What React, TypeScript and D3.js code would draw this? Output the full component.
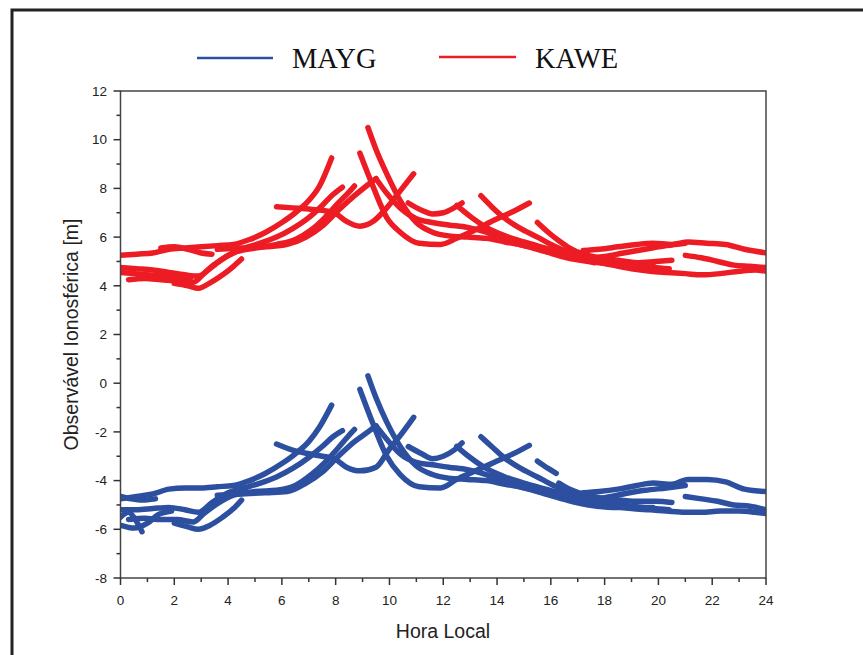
import * as d3 from 'd3';

// KAWE passes (hora local, observável [m])
const kawe1 = [[0, 5.25], [0.6, 5.3], [1.2, 5.35], [1.8, 5.5], [2.4, 5.55], [3, 5.6], [3.6, 5.65], [4.2, 5.7], [4.8, 5.9], [5.4, 6.2], [6, 6.6], [6.5, 7.0], [7, 7.5], [7.4, 8.1], [7.85, 9.25]];
const kawe2 = [[0, 4.75], [0.6, 4.7], [1.2, 4.65], [1.8, 4.55], [2.4, 4.45], [2.9, 4.4], [3.4, 4.8], [4, 5.25], [4.6, 5.55], [5.2, 5.75], [5.8, 6.0], [6.4, 6.35], [7, 6.8], [7.5, 7.3], [7.9, 7.75], [8.25, 8.05]];
const kawe3 = [[0.3, 4.25], [0.9, 4.3], [1.5, 4.25], [2.1, 4.2], [2.7, 4.15], [3.1, 4.5], [3.6, 4.95], [4.2, 5.35], [5, 5.55], [5.8, 5.7], [6.5, 5.9], [7.1, 6.3], [7.6, 6.8], [8.1, 7.4], [8.45, 7.8], [8.7, 8.1]];
const kawe4 = [[2.0, 4.1], [2.5, 4.0], [2.9, 3.9], [3.3, 4.1], [3.8, 4.45], [4.2, 4.8], [4.5, 5.1]];
const kawe5 = [[0, 4.55], [0.5, 4.5], [1, 4.45], [1.6, 4.4], [2.2, 4.35], [2.6, 4.3]];
const kawe5b = [[1.5, 5.55], [2.0, 5.6], [2.5, 5.5], [3.0, 5.35], [3.4, 5.3]];
const kawe6 = [[5.8, 7.25], [6.4, 7.2], [7, 7.15], [7.5, 7.1], [7.95, 7.0], [8.4, 6.65], [8.9, 6.45], [9.4, 6.65], [9.9, 7.2], [10.4, 7.9], [10.9, 8.6]];
const kawe7 = [[3.6, 5.5], [4.5, 5.55], [5.4, 5.6], [6.2, 5.7], [6.9, 6.0], [7.5, 6.45], [8.1, 7.1], [8.7, 7.7], [9.2, 8.15], [9.5, 8.4]];
const kawe8 = [[9.2, 10.5], [9.5, 9.6], [9.9, 8.6], [10.4, 7.5], [11, 6.6], [11.6, 6.2], [12.2, 6.05], [12.9, 6.0], [13.6, 5.95], [14.3, 5.8], [15, 5.65], [15.8, 5.4], [16.6, 5.15], [17.4, 5.0], [18.3, 4.9], [19.2, 4.85], [19.8, 4.85]];
const kawe9 = [[8.9, 9.45], [9.4, 8.05], [9.9, 6.8], [10.4, 6.2], [11.1, 5.75], [11.9, 5.7], [12.5, 5.95], [13.2, 6.3], [13.9, 6.7], [14.6, 7.05], [15.2, 7.4]];
const kawe10 = [[9.5, 8.4], [9.9, 7.8], [10.4, 7.2], [11, 6.75], [11.6, 6.6], [12.2, 6.5], [12.9, 6.4], [13.6, 6.2], [14.3, 5.9], [15, 5.65], [15.7, 5.5], [16.5, 5.3], [17.3, 5.1], [18.2, 5.0], [19, 4.9], [19.8, 4.75], [20.4, 4.7]];
const kawe11 = [[10.7, 7.4], [11.2, 7.1], [11.6, 6.95], [12.0, 7.0], [12.4, 7.2], [12.7, 7.4]];
const kawe12 = [[12.5, 7.3], [13, 6.85], [13.6, 6.4], [14.3, 6.05], [15, 5.8], [15.8, 5.55], [16.6, 5.3], [17.3, 5.15], [18, 5.2], [18.7, 5.35], [19.5, 5.5], [20.3, 5.65], [21, 5.75]];
const kawe13 = [[13.4, 7.7], [13.8, 7.25], [14.2, 6.85], [14.8, 6.4], [15.5, 6.0], [16.1, 5.65], [16.7, 5.35], [17.2, 5.1], [17.6, 4.95]];
const kawe14 = [[15.5, 6.6], [15.9, 6.2], [16.3, 5.85], [16.7, 5.55], [17.2, 5.3], [17.8, 5.15], [18.5, 5.05], [19.2, 4.95], [19.9, 5.0], [20.5, 5.05]];
const kawe15 = [[17.2, 5.45], [17.8, 5.5], [18.5, 5.6], [19.2, 5.7], [19.8, 5.75], [20.5, 5.7], [21.1, 5.8], [21.8, 5.75], [22.5, 5.7], [23.2, 5.5], [24, 5.35]];
const kawe16 = [[21, 5.25], [21.6, 5.15], [22.2, 5.0], [22.8, 4.85], [23.4, 4.8], [24, 4.75]];
const kawe17 = [[17.7, 5.0], [18.3, 4.85], [19, 4.7], [19.7, 4.6], [20.3, 4.55], [21, 4.5], [21.6, 4.45], [22.3, 4.5], [23, 4.6], [23.6, 4.65], [24, 4.6]];

// MAYG passes
const mayg1 = [[0, -4.75], [0.6, -4.65], [1.2, -4.55], [1.8, -4.35], [2.4, -4.3], [3, -4.3], [3.6, -4.25], [4.2, -4.2], [4.8, -4.0], [5.4, -3.7], [6, -3.3], [6.5, -2.9], [7, -2.4], [7.4, -1.8], [7.85, -0.9]];
const mayg2 = [[0, -5.2], [0.6, -5.2], [1.2, -5.15], [1.8, -5.1], [2.4, -5.2], [2.9, -5.3], [3.4, -4.9], [4, -4.5], [4.6, -4.3], [5.2, -4.1], [5.8, -3.85], [6.4, -3.5], [7, -3.05], [7.5, -2.6], [7.9, -2.2], [8.25, -1.95]];
const mayg3 = [[0.3, -5.6], [0.9, -5.55], [1.5, -5.6], [2.1, -5.6], [2.7, -5.7], [3.1, -5.35], [3.6, -4.95], [4.2, -4.6], [5, -4.45], [5.8, -4.4], [6.5, -4.2], [7.1, -3.75], [7.6, -3.25], [8.1, -2.65], [8.45, -2.2], [8.7, -1.9]];
const mayg4 = [[2.0, -5.75], [2.5, -5.9], [2.9, -6.0], [3.3, -5.85], [3.8, -5.5], [4.2, -5.15], [4.5, -4.8]];
const mayg5 = [[0, -5.5], [0.3, -5.3], [0.55, -5.6], [0.8, -6.1]];
const mayg6 = [[0, -4.65], [0.4, -4.75], [0.8, -4.8], [1.3, -4.75]];
const mayg6b = [[0.05, -5.85], [0.5, -5.95], [1.0, -5.75], [1.4, -5.4], [1.9, -5.25]];
const mayg7 = [[5.8, -2.5], [6.4, -2.75], [7, -2.9], [7.5, -3.0], [7.95, -3.1], [8.4, -3.45], [8.9, -3.6], [9.5, -3.45], [10, -2.7], [10.4, -2.15], [10.9, -1.4]];
const mayg8 = [[3.6, -4.6], [4.5, -4.55], [5.4, -4.5], [6.2, -4.45], [6.9, -4.1], [7.5, -3.65], [8.1, -3.0], [8.7, -2.4], [9.2, -2.0], [9.5, -1.75]];
const mayg9 = [[9.2, 0.3], [9.5, -0.6], [9.9, -1.6], [10.4, -2.6], [11, -3.4], [11.6, -3.75], [12.2, -3.9], [12.9, -3.95], [13.6, -4.0], [14.3, -4.15], [15, -4.3], [15.8, -4.55], [16.6, -4.8], [17.4, -5.0], [18.3, -5.1], [19.2, -5.1], [19.8, -5.1]];
const mayg10 = [[8.9, -0.25], [9.4, -1.7], [9.9, -3.0], [10.4, -3.75], [11.1, -4.25], [11.9, -4.3], [12.5, -3.95], [13.2, -3.6], [13.9, -3.25], [14.6, -2.9], [15.2, -2.55]];
const mayg11 = [[9.5, -1.75], [9.9, -2.3], [10.4, -2.9], [11, -3.25], [11.6, -3.35], [12.2, -3.45], [12.9, -3.55], [13.6, -3.75], [14.3, -4.05], [15, -4.3], [15.7, -4.45], [16.5, -4.65], [17.3, -4.85], [18.2, -4.95], [19, -5.05], [19.8, -5.15], [20.4, -5.2]];
const mayg12 = [[10.7, -2.6], [11.2, -2.9], [11.6, -3.1], [12.0, -3.0], [12.4, -2.75], [12.7, -2.45]];
const mayg13 = [[12.5, -2.6], [13, -3.05], [13.6, -3.5], [14.3, -3.85], [15, -4.1], [15.8, -4.35], [16.6, -4.6], [17.3, -4.75], [18, -4.7], [18.7, -4.55], [19.5, -4.4], [20.3, -4.3], [21, -4.2]];
const mayg14 = [[13.4, -2.2], [13.8, -2.6], [14.2, -3.0], [14.8, -3.45], [15.5, -3.85], [16.1, -4.2], [16.7, -4.5], [17.2, -4.75], [17.6, -4.9]];
const mayg15 = [[15.5, -3.2], [15.9, -3.5], [16.2, -3.7]];
const mayg16 = [[16.3, -4.1], [16.7, -4.35], [17.2, -4.55], [17.8, -4.7], [18.5, -4.8], [19.2, -4.85], [19.9, -4.85], [20.5, -4.9]];
const mayg17 = [[17.2, -4.5], [17.8, -4.45], [18.5, -4.35], [19.2, -4.2], [19.8, -4.1], [20.5, -4.15], [21.1, -3.95], [21.8, -3.95], [22.5, -4.05], [23.2, -4.35], [24, -4.45]];
const mayg18 = [[21, -4.65], [21.6, -4.75], [22.2, -4.85], [22.8, -5.0], [23.4, -5.05], [24, -5.2]];
const mayg19 = [[17.7, -4.95], [18.3, -5.05], [19, -5.15], [19.7, -5.2], [20.3, -5.25], [21, -5.3], [21.6, -5.3], [22.3, -5.25], [23, -5.25], [23.6, -5.3], [24, -5.35]];

const kaweArcs = [kawe1, kawe2, kawe3, kawe4, kawe5, kawe5b, kawe6, kawe7, kawe8, kawe9, kawe10, kawe11, kawe12, kawe13, kawe14, kawe15, kawe16, kawe17];
const maygArcs = [mayg1, mayg2, mayg3, mayg4, mayg5, mayg6, mayg6b, mayg7, mayg8, mayg9, mayg10, mayg11, mayg12, mayg13, mayg14, mayg15, mayg16, mayg17, mayg18, mayg19];

const xTicks = [0, 2, 4, 6, 8, 10, 12, 14, 16, 18, 20, 22, 24];
const yTicks = [-8, -6, -4, -2, 0, 2, 4, 6, 8, 10, 12];

const BLUE = '#2d4fa0';
const RED = '#ed1c24';

export default function App() {
  const W = 863, H = 655;
  const plot = { left: 120.5, right: 766, top: 91, bottom: 578 };
  const x = d3.scaleLinear().domain([0, 24]).range([plot.left, plot.right]);
  const y = d3.scaleLinear().domain([-8, 12]).range([plot.bottom, plot.top]);
  const line = d3.line<number[]>().x((d) => x(d[0])).y((d) => y(d[1])).curve(d3.curveMonotoneX);
  const xMinor = d3.range(1, 24, 2);
  const yMinor = d3.range(-7, 12, 2);
  const sans = 'Arial, "Liberation Sans", sans-serif';
  const serif = '"Times New Roman", "Liberation Serif", serif';

  return (
    <svg width={W} height={H} style={{ position: 'absolute', left: 0, top: 0, background: '#fff' }}>
      <defs>
        <clipPath id="plotclip">
          <rect x={plot.left} y={plot.top - 4} width={plot.right - plot.left} height={plot.bottom - plot.top + 8} />
        </clipPath>
      </defs>
      <rect x={12} y={10} width={W + 20} height={H + 20} fill="#fff" stroke="#222" strokeWidth={3} />

      {/* legend */}
      <line x1={197} x2={273} y1={58} y2={58} stroke={BLUE} strokeWidth={2.5} />
      <text x={292} y={68} fontFamily={serif} fontSize={28.5} fill="#111">MAYG</text>
      <line x1={439} x2={516} y1={57} y2={57} stroke={RED} strokeWidth={2.5} />
      <text x={535} y={68} fontFamily={serif} fontSize={28.5} fill="#111">KAWE</text>

      {/* data */}
      <g clipPath="url(#plotclip)" fill="none" strokeWidth={5.5} strokeLinecap="round" strokeLinejoin="round">
        {kaweArcs.map((a, i) => <path key={'k' + i} d={line(a as number[][]) || ''} stroke={RED} />)}
        {maygArcs.map((a, i) => <path key={'m' + i} d={line(a as number[][]) || ''} stroke={BLUE} />)}
      </g>

      {/* frame */}
      <rect x={plot.left} y={plot.top} width={plot.right - plot.left} height={plot.bottom - plot.top} fill="none" stroke="#444" strokeWidth={1.5} />

      {/* x axis */}
      {xTicks.map((t) => (
        <g key={'xt' + t}>
          <line x1={x(t)} x2={x(t)} y1={plot.bottom} y2={plot.bottom + 7} stroke="#333" strokeWidth={1.5} />
          <text x={x(t)} y={605} textAnchor="middle" fontFamily={sans} fontSize={13.5} fill="#222">{String(t)}</text>
        </g>
      ))}
      {xMinor.map((t) => (
        <line key={'xm' + t} x1={x(t)} x2={x(t)} y1={plot.bottom} y2={plot.bottom + 4} stroke="#333" strokeWidth={1.5} />
      ))}

      {/* y axis */}
      {yTicks.map((t) => (
        <g key={'yt' + t}>
          <line x1={plot.left - 7} x2={plot.left} y1={y(t)} y2={y(t)} stroke="#333" strokeWidth={1.5} />
          <text x={107} y={y(t)} dy="0.35em" textAnchor="end" fontFamily={sans} fontSize={13.5} fill="#222">{String(t)}</text>
        </g>
      ))}
      {yMinor.map((t) => (
        <line key={'ym' + t} x1={plot.left - 4} x2={plot.left} y1={y(t)} y2={y(t)} stroke="#333" strokeWidth={1.5} />
      ))}

      <text x={443} y={638} textAnchor="middle" fontFamily={sans} fontSize={19.5} fill="#222">Hora Local</text>
      <text transform={`translate(78,${(plot.top + plot.bottom) / 2}) rotate(-90)`} textAnchor="middle" fontFamily={sans} fontSize={19.5} fill="#222">Observável Ionosférica [m]</text>
    </svg>
  );
}
